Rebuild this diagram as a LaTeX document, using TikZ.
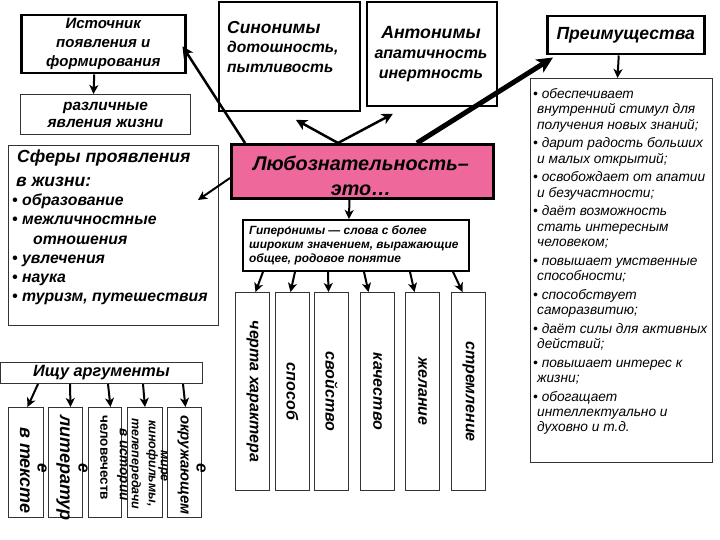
\documentclass[tikz,border=0pt]{standalone}
\usepackage{fontspec}
\setmainfont{Liberation Sans}
\usetikzlibrary{arrows.meta,calc}
\definecolor{pinkfill}{RGB}{238,104,155}
\newcommand\fsz[2]{\fontsize{#1}{#2}\selectfont}
\begin{document}
\begin{tikzpicture}[x=1pt,y=-1pt,
  box/.style 2 args={minimum width=#1, minimum height=#2, anchor=north west},
  thickbox/.style={draw=black,line width=2.5pt,fill=white,inner sep=0pt},
  midbox/.style={draw=black,line width=1.8pt,fill=white,inner sep=0pt},
  thinbox/.style={draw=black!80,line width=1pt,fill=white,inner sep=0pt},
  bi/.style={font=\fsz{#1}{#1}\bfseries\itshape},
  txt/.style={inner sep=0pt},
  vtxt/.style={inner sep=0pt, rotate=-90, font=\fsz{#1}{#1}\bfseries\itshape},
  arrA/.style={-{Stealth[length=11pt,width=11pt,inset=3pt]}, line width=2.5pt},
  arrB/.style={-{Stealth[length=16pt,width=15pt,inset=4pt]}, line width=5pt},
  arrC/.style={-{Stealth[length=9pt,width=9pt,inset=2.5pt]}, line width=2pt},
]
\fill[white] (0,0) rectangle (720,540);
\useasboundingbox (0,0) rectangle (720,540);

% top left
\node[thickbox, box={164}{58}, align=center, font=\fsz{15}{19}\bfseries\itshape] (ist) at (20,14) {Источник\\появления и\\формирования};
\node[thinbox, box={170}{40}, align=center, font=\fsz{15.4}{17}\bfseries\itshape] (razl) at (20,94) {различные\\явления жизни};

% synonyms / antonyms
\node[midbox, box={141}{109}] (syn) at (218,1) {};
\node[txt, anchor=north west, align=left, font=\fsz{15.6}{19.5}\bfseries\itshape] (syntext) at (227,21) {{\fsz{17.4}{19.5}Синонимы}\\дотошность,\\пытливость};
\node[midbox, box={130}{104}] (ant) at (366,1) {};
\node[txt, anchor=north, align=center, font=\fsz{16}{20}\bfseries\itshape] (anttext) at (431,26) {{\fsz{17.7}{20}Антонимы}\\апатичность\\инертность};

% advantages
\node[thickbox, box={157}{38}, bi=17.6] (pre) at (546,15) {Преимущества};
\node[thinbox, box={182}{384}] (list) at (530,78) {};
\node[txt, anchor=north west, align=left, font=\fsz{13.7}{15.4}\itshape] (listtext) at (533,88) {%
• обеспечивает\\
\hspace*{4pt}внутренний стимул для\\
\hspace*{4pt}получения новых знаний;\\[3.2pt]
• дарит радость больших\\
\hspace*{4pt}и малых открытий;\\[3.2pt]
• освобождает от апатии\\
\hspace*{4pt}и безучастности;\\[3.2pt]
• даёт возможность\\
\hspace*{4pt}стать интересным\\
\hspace*{4pt}человеком;\\[3.2pt]
• повышает умственные\\
\hspace*{4pt}способности;\\[3.2pt]
• способствует\\
\hspace*{4pt}саморазвитию;\\[3.2pt]
• даёт силы для активных\\
\hspace*{4pt}действий;\\[3.2pt]
• повышает интерес к\\
\hspace*{4pt}жизни;\\[3.2pt]
• обогащает\\
\hspace*{4pt}интеллектуально и\\
\hspace*{4pt}духовно и т.д.};

% central
\node[draw=black, line width=3pt, fill=pinkfill, inner sep=0pt, box={262}{54}] (pink) at (230,143) {};
\node[txt, align=center, font=\fsz{19.8}{25}\bfseries\itshape] (pinktext) at (361,176) {Любознательность–\\это…};

% spheres
\node[thinbox, box={210}{180}] (sf) at (8,145) {};
\node[txt, anchor=north west, align=left, font=\fsz{15.8}{19.3}\bfseries\itshape] (sftext) at (12,150) {%
\hspace*{5pt}{\fsz{17.5}{19.3}Сферы проявления}\\[4pt]
\hspace*{4pt}{\fsz{17.5}{19.3}в жизни:}\\
• образование\\
• межличностные\\
\hspace*{21pt}отношения\\
• увлечения\\
• наука\\
• туризм, путешествия};

% hyperonyms
\node[midbox, box={226}{51}] (hyp) at (242,219) {};
\node[txt, anchor=north west, align=left, font=\fsz{11.9}{13.6}\bfseries\itshape] (hyptext) at (249,226) {Гиперо́нимы — слова с более\\широким значением, выражающие\\общее, родовое понятие};

% six vertical boxes
\node[thinbox, box={34}{198}] (v1) at (235,292) {};
\node[thinbox, box={34}{198}] (v2) at (275,292) {};
\node[thinbox, box={34}{198}] (v3) at (314,292) {};
\node[thinbox, box={34}{198}] (v4) at (360,292) {};
\node[thinbox, box={34}{198}] (v5) at (405,292) {};
\node[thinbox, box={34}{198}] (v6) at (451,292) {};
\node[vtxt=16] (v1t) at (v1.center) {черта характера};
\node[vtxt=16] (v2t) at (v2.center) {способ};
\node[vtxt=16] (v3t) at (v3.center) {свойство};
\node[vtxt=16] (v4t) at (v4.center) {качество};
\node[vtxt=16] (v5t) at (v5.center) {желание};
\node[vtxt=16] (v6t) at (v6.center) {стремление};

% arguments
\node[thinbox, box={202}{21}, bi=16.3] (ishu) at (0,362) {Ищу аргументы};
\node[thinbox, box={35}{110}] (b1) at (8,407) {};
\node[thinbox, box={34}{110}] (b2) at (48,407) {};
\node[thinbox, box={33}{110}] (b3) at (88,407) {};
\node[thinbox, box={35}{110}] (b4) at (127,407) {};
\node[thinbox, box={34}{110}] (b5) at (167,407) {};
\node[vtxt=18, anchor=west] (b1t) at (25,427) {в тексте};
\node[vtxt=17] (b1e) at (42,468) {е};
\node[vtxt=18, anchor=west] (b2t) at (63,415) {литератур};
\node[vtxt=17] (b2e) at (83,468) {е};
\node[vtxt=13.5, anchor=west, font=\fsz{13.5}{13.5}\bfseries] (b3t) at (104,415) {человечеств};
\node[vtxt=13.5, anchor=west] (b3u) at (122,428) {в истории};
\node[vtxt=12.5, anchor=west] (b4t) at (135,418) {телепередачи};
\node[vtxt=12.5, anchor=west] (b4u) at (152,420) {кинофильмы,};
\node[vtxt=12.5, anchor=west] (b4v) at (163,450) {мире};
\node[vtxt=15, anchor=west] (b5t) at (183,415) {окружающем};
\node[vtxt=17] (b5e) at (201,468) {е};

% connectors
\draw[arrC] ([xshift=-9]ist.south) -- ([xshift=-12]razl.north);
\draw[arrC] ([xshift=-7]pre.south) -- ([xshift=-4]list.north);
\draw[arrA] ([xshift=15]pink.north west) -- ([xshift=-4,yshift=-2]ist.east);
\draw[arrA] ([xshift=108]pink.north west) -- ([xshift=6.5,yshift=-8]syn.south);
\draw[arrA] ([xshift=108]pink.north west) -- ([xshift=-39,yshift=-7]ant.south);
\draw[arrB] ([xshift=187]pink.north west) -- ([xshift=7,yshift=-2]pre.south west);
\draw[arrC] ([yshift=-35]pink.north west) -- ([xshift=-21,yshift=-55]sf.north east);
\draw[arrC] ([xshift=-13]pink.south) -- ([xshift=-7]hyp.north);

\draw[arrC] ([xshift=21]hyp.south west) -- ([xshift=3]v1.north);
\draw[arrC] ([xshift=53]hyp.south west) -- ([xshift=-2]v2.north);
\draw[arrC] ([xshift=86]hyp.south west) -- ([xshift=-3]v3.north);
\draw[arrC] ([xshift=122]hyp.south west) -- ([xshift=-9]v4.north);
\draw[arrC] ([xshift=168]hyp.south west) -- ([xshift=-8]v5.north);
\draw[arrC] ([xshift=211]hyp.south west) -- ([xshift=-6]v6.north);

\draw[arrC] ([xshift=38]ishu.south west) -- ([xshift=1.5]b1.north);
\draw[arrC] ([xshift=70]ishu.south west) -- ([xshift=5]b2.north);
\draw[arrC] ([xshift=108]ishu.south west) -- ([xshift=5.5]b3.north);
\draw[arrC] ([xshift=143]ishu.south west) -- (b4.north);
\draw[arrC] ([xshift=183]ishu.south west) -- ([xshift=1]b5.north);
\end{tikzpicture}
\end{document}
